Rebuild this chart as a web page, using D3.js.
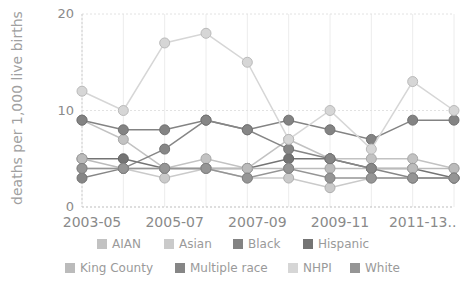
<!DOCTYPE html>
<html>
<head>
<meta charset="utf-8">
<script src="https://cdn.jsdelivr.net/npm/d3@7"></script>
<style>
  body { margin: 0; background: #fff; }
  svg { font-family: "DejaVu Sans", Verdana, sans-serif; }
</style>
</head>
<body>
<svg id="chart" width="462" height="281"></svg>
<script>
const periods = ['2003-05', '2004-06', '2005-07', '2006-08', '2007-09',
  '2008-10', '2009-11', '2010-12', '2011-13', '2012-14'];
const tickLabels = ['2003-05', '', '2005-07', '', '2007-09', '', '2009-11', '', '2011-13..', ''];
const yTicks = [0, 10, 20];

const seriesNames = ['AIAN', 'Asian', 'Black', 'Hispanic', 'King County', 'Multiple race', 'NHPI', 'White'];
const aian = [9, 7, 4, 5, 4, 7, 5, 5, 5, 4];
const asian = [4, 4, 3, 4, 3, 3, 2, 3, 3, 3];
const black = [9, 8, 8, 9, 8, 9, 8, 7, 9, 9];
const hispanic = [5, 5, 4, 4, 4, 5, 5, 4, 4, 3];
const kingCounty = [5, 4, 4, 4, 4, 4, 4, 4, 4, 4];
const multipleRace = [3, 4, 6, 9, 8, 6, 5, 4, 3, 3];
const nhpi = [12, 10, 17, 18, 15, 7, 10, 6, 13, 10];
const white = [4, 4, 4, 4, 3, 4, 3, 3, 3, 3];
const seriesValues = [aian, asian, black, hispanic, kingCounty, multipleRace, nhpi, white];
const seriesColors = ['#c2c2c2', '#cacaca', '#838383', '#747474', '#bbbbbb', '#868686', '#d6d6d6', '#959595'];

const svg = d3.select('#chart');

const x = d3.scalePoint().domain(periods).range([82, 454]);
const y = d3.scaleLinear().domain([0, 20]).range([207, 14]);

// vertical grid lines at every period
svg.append('g')
  .selectAll('line')
  .data(periods)
  .join('line')
  .attr('x1', (d) => x(d)).attr('x2', (d) => x(d))
  .attr('y1', y(20)).attr('y2', y(0))
  .attr('stroke', '#ececec').attr('stroke-width', 1);

// horizontal grid
svg.append('g')
  .selectAll('line')
  .data(yTicks)
  .join('line')
  .attr('x1', 82).attr('x2', 454)
  .attr('y1', (d) => y(d)).attr('y2', (d) => y(d))
  .attr('stroke', (d) => d === 0 ? '#bdbdbd' : '#e2e2e2')
  .attr('stroke-dasharray', '2,2');

// y axis line
svg.append('line')
  .attr('x1', 82).attr('x2', 82)
  .attr('y1', y(20)).attr('y2', y(0))
  .attr('stroke', '#d0d0d0').attr('stroke-dasharray', '2,2');

// y tick labels
svg.append('g')
  .selectAll('text')
  .data(yTicks)
  .join('text')
  .attr('x', 74).attr('y', (d) => y(d) + 4)
  .attr('text-anchor', 'end')
  .attr('font-size', 13).attr('fill', '#8a8a8a')
  .text((d) => d);

// x tick labels (sit a little right of their point, as in the source)
svg.append('g')
  .selectAll('text')
  .data(periods)
  .join('text')
  .attr('x', (d) => x(d) + 10).attr('y', 227)
  .attr('text-anchor', 'middle')
  .attr('font-size', 14).attr('fill', '#8a8a8a')
  .text((d, i) => tickLabels[i]);

// y axis title
svg.append('text')
  .attr('transform', 'translate(22,108) rotate(-90)')
  .attr('text-anchor', 'middle')
  .attr('font-size', 14).attr('fill', '#a0a0a0')
  .text('deaths per 1,000 live births');

const line = d3.line()
  .x((d, i) => x(periods[i]))
  .y((d) => y(d));

const series = svg.append('g')
  .selectAll('g')
  .data(seriesValues)
  .join('g');

series.append('path')
  .attr('d', (d) => line(d))
  .attr('fill', 'none')
  .attr('stroke', (d, i) => seriesColors[i])
  .attr('stroke-width', 1.5);

series.selectAll('circle')
  .data((d, i) => d.map((v, j) => ({ v, j, i })))
  .join('circle')
  .attr('cx', (d) => x(periods[d.j]))
  .attr('cy', (d) => y(d.v))
  .attr('r', 5)
  .attr('fill', (d) => seriesColors[d.i])
  .attr('stroke', (d) => d3.color(seriesColors[d.i]).darker(0.4))
  .attr('stroke-width', 1);

// legend, two rows
const legendPos = [
  [97, 244], [164, 244], [233, 244], [303, 244],
  [65, 268], [175, 268], [288, 268], [350, 268]
];
const legend = svg.append('g')
  .selectAll('g')
  .data(seriesNames)
  .join('g')
  .attr('transform', (d, i) => `translate(${legendPos[i][0]},${legendPos[i][1]})`);

legend.append('rect')
  .attr('x', 0).attr('y', -5)
  .attr('width', 10).attr('height', 10)
  .attr('fill', (d, i) => seriesColors[i]);

legend.append('text')
  .attr('x', 15).attr('y', 4)
  .attr('font-size', 12).attr('fill', '#9a9a9a')
  .text((d) => d);
</script>
</body>
</html>
